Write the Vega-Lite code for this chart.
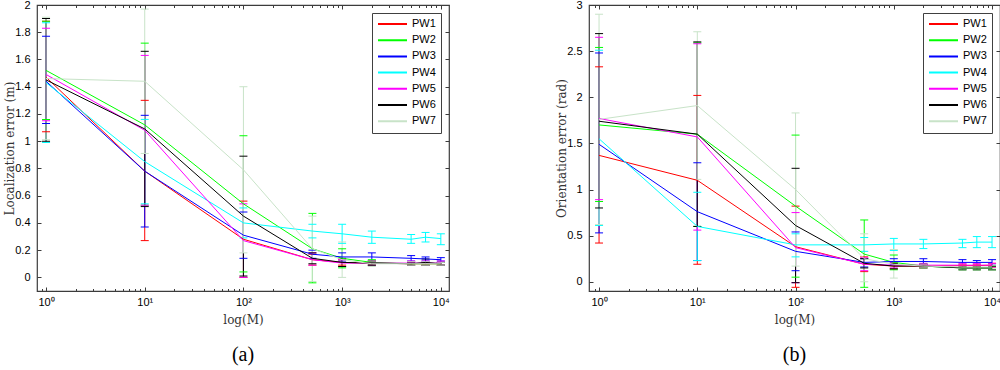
{
  "$schema": "https://vega.github.io/schema/vega-lite/v6.json",
  "padding": {"left": 3, "top": -2, "right": 0, "bottom": 0},
  "background": "white",
  "config": {
    "view": {"stroke": "#3c3c3c", "strokeWidth": 1.2},
    "axis": {"grid": false, "domain": false, "labelFont": "Liberation Sans", "labelFontSize": 11, "labelColor": "#000", "tickColor": "#3c3c3c", "titleFont": "DejaVu Serif", "titleFontSize": 12, "titleFontWeight": "normal", "titleColor": "#333"},
    "legend": {"orient": "top-right", "offset": 8, "strokeColor": "#404040", "fillColor": "#ffffff", "padding": 5, "labelFont": "Liberation Sans", "labelFontSize": 11, "labelColor": "#000", "symbolType": "stroke", "symbolSize": 841, "symbolStrokeWidth": 2, "rowPadding": 4.2, "clipHeight": 12, "labelOffset": 4},
    "title": {"font": "Liberation Serif", "fontSize": 20, "fontWeight": "normal", "color": "#000"}
  },
  "datasets": {
    "loc": [
      {"M":1,"s":"PW1","m":1.47,"lo":1.07,"hi":1.88},
      {"M":1,"s":"PW2","m":1.52,"lo":1.16,"hi":1.88},
      {"M":1,"s":"PW3","m":1.44,"lo":1.13,"hi":1.77},
      {"M":1,"s":"PW4","m":1.43,"lo":0.99,"hi":1.87},
      {"M":1,"s":"PW5","m":1.49,"lo":1.15,"hi":1.83},
      {"M":1,"s":"PW6","m":1.45,"lo":1.00,"hi":1.90},
      {"M":1,"s":"PW7","m":1.46,"lo":1.01,"hi":1.91},
      {"M":10,"s":"PW1","m":0.78,"lo":0.27,"hi":1.30},
      {"M":10,"s":"PW2","m":1.12,"lo":0.53,"hi":1.72},
      {"M":10,"s":"PW3","m":0.78,"lo":0.37,"hi":1.19},
      {"M":10,"s":"PW4","m":0.85,"lo":0.54,"hi":1.16},
      {"M":10,"s":"PW5","m":1.08,"lo":0.53,"hi":1.63},
      {"M":10,"s":"PW6","m":1.09,"lo":0.52,"hi":1.66},
      {"M":10,"s":"PW7","m":1.44,"lo":0.91,"hi":1.97},
      {"M":100,"s":"PW1","m":0.28,"lo":0.00,"hi":0.56},
      {"M":100,"s":"PW2","m":0.54,"lo":0.04,"hi":1.04},
      {"M":100,"s":"PW3","m":0.31,"lo":0.14,"hi":0.48},
      {"M":100,"s":"PW4","m":0.40,"lo":0.29,"hi":0.51},
      {"M":100,"s":"PW5","m":0.27,"lo":0.00,"hi":0.54},
      {"M":100,"s":"PW6","m":0.45,"lo":0.01,"hi":0.89},
      {"M":100,"s":"PW7","m":0.79,"lo":0.18,"hi":1.40},
      {"M":500,"s":"PW1","m":0.13,"lo":0.09,"hi":0.17},
      {"M":500,"s":"PW2","m":0.21,"lo":-0.04,"hi":0.47},
      {"M":500,"s":"PW3","m":0.17,"lo":0.14,"hi":0.20},
      {"M":500,"s":"PW4","m":0.34,"lo":0.29,"hi":0.39},
      {"M":500,"s":"PW5","m":0.13,"lo":0.09,"hi":0.18},
      {"M":500,"s":"PW6","m":0.14,"lo":0.10,"hi":0.18},
      {"M":500,"s":"PW7","m":0.21,"lo":-0.03,"hi":0.45},
      {"M":1000,"s":"PW1","m":0.11,"lo":0.09,"hi":0.13},
      {"M":1000,"s":"PW2","m":0.14,"lo":0.07,"hi":0.21},
      {"M":1000,"s":"PW3","m":0.15,"lo":0.12,"hi":0.18},
      {"M":1000,"s":"PW4","m":0.32,"lo":0.25,"hi":0.39},
      {"M":1000,"s":"PW5","m":0.105,"lo":0.08,"hi":0.13},
      {"M":1000,"s":"PW6","m":0.11,"lo":0.08,"hi":0.14},
      {"M":1000,"s":"PW7","m":0.13,"lo":0.00,"hi":0.26},
      {"M":2000,"s":"PW1","m":0.105,"lo":0.09,"hi":0.12},
      {"M":2000,"s":"PW2","m":0.11,"lo":0.09,"hi":0.13},
      {"M":2000,"s":"PW3","m":0.15,"lo":0.12,"hi":0.18},
      {"M":2000,"s":"PW4","m":0.295,"lo":0.25,"hi":0.34},
      {"M":2000,"s":"PW5","m":0.105,"lo":0.09,"hi":0.12},
      {"M":2000,"s":"PW6","m":0.105,"lo":0.09,"hi":0.12},
      {"M":2000,"s":"PW7","m":0.10,"lo":0.08,"hi":0.12},
      {"M":5000,"s":"PW1","m":0.10,"lo":0.09,"hi":0.115},
      {"M":5000,"s":"PW2","m":0.10,"lo":0.09,"hi":0.11},
      {"M":5000,"s":"PW3","m":0.14,"lo":0.12,"hi":0.16},
      {"M":5000,"s":"PW4","m":0.28,"lo":0.25,"hi":0.315},
      {"M":5000,"s":"PW5","m":0.105,"lo":0.09,"hi":0.12},
      {"M":5000,"s":"PW6","m":0.10,"lo":0.09,"hi":0.11},
      {"M":5000,"s":"PW7","m":0.10,"lo":0.09,"hi":0.115},
      {"M":7000,"s":"PW1","m":0.10,"lo":0.09,"hi":0.11},
      {"M":7000,"s":"PW2","m":0.10,"lo":0.09,"hi":0.11},
      {"M":7000,"s":"PW3","m":0.135,"lo":0.12,"hi":0.15},
      {"M":7000,"s":"PW4","m":0.295,"lo":0.26,"hi":0.33},
      {"M":7000,"s":"PW5","m":0.105,"lo":0.09,"hi":0.12},
      {"M":7000,"s":"PW6","m":0.11,"lo":0.09,"hi":0.135},
      {"M":7000,"s":"PW7","m":0.10,"lo":0.09,"hi":0.115},
      {"M":10000,"s":"PW1","m":0.10,"lo":0.09,"hi":0.11},
      {"M":10000,"s":"PW2","m":0.10,"lo":0.09,"hi":0.11},
      {"M":10000,"s":"PW3","m":0.13,"lo":0.12,"hi":0.145},
      {"M":10000,"s":"PW4","m":0.285,"lo":0.24,"hi":0.32},
      {"M":10000,"s":"PW5","m":0.105,"lo":0.09,"hi":0.12},
      {"M":10000,"s":"PW6","m":0.10,"lo":0.09,"hi":0.11},
      {"M":10000,"s":"PW7","m":0.10,"lo":0.09,"hi":0.11}
    ],
    "ori": [
      {"M":1,"s":"PW1","m":1.37,"lo":0.42,"hi":2.33},
      {"M":1,"s":"PW2","m":1.70,"lo":0.87,"hi":2.54},
      {"M":1,"s":"PW3","m":1.49,"lo":0.53,"hi":2.48},
      {"M":1,"s":"PW4","m":1.55,"lo":0.61,"hi":2.51},
      {"M":1,"s":"PW5","m":1.77,"lo":0.89,"hi":2.65},
      {"M":1,"s":"PW6","m":1.74,"lo":0.80,"hi":2.69},
      {"M":1,"s":"PW7","m":1.76,"lo":0.62,"hi":2.90},
      {"M":10,"s":"PW1","m":1.10,"lo":0.19,"hi":2.02},
      {"M":10,"s":"PW2","m":1.60,"lo":0.60,"hi":2.59},
      {"M":10,"s":"PW3","m":0.76,"lo":0.23,"hi":1.29},
      {"M":10,"s":"PW4","m":0.60,"lo":0.23,"hi":0.97},
      {"M":10,"s":"PW5","m":1.57,"lo":0.56,"hi":2.58},
      {"M":10,"s":"PW6","m":1.60,"lo":0.60,"hi":2.60},
      {"M":10,"s":"PW7","m":1.91,"lo":1.11,"hi":2.71},
      {"M":100,"s":"PW1","m":0.38,"lo":-0.06,"hi":0.82},
      {"M":100,"s":"PW2","m":0.82,"lo":0.05,"hi":1.59},
      {"M":100,"s":"PW3","m":0.33,"lo":0.12,"hi":0.54},
      {"M":100,"s":"PW4","m":0.40,"lo":0.27,"hi":0.52},
      {"M":100,"s":"PW5","m":0.37,"lo":-0.01,"hi":0.75},
      {"M":100,"s":"PW6","m":0.61,"lo":-0.01,"hi":1.23},
      {"M":100,"s":"PW7","m":1.00,"lo":0.17,"hi":1.83},
      {"M":500,"s":"PW1","m":0.19,"lo":0.11,"hi":0.27},
      {"M":500,"s":"PW2","m":0.30,"lo":-0.06,"hi":0.67},
      {"M":500,"s":"PW3","m":0.21,"lo":0.16,"hi":0.25},
      {"M":500,"s":"PW4","m":0.40,"lo":0.33,"hi":0.48},
      {"M":500,"s":"PW5","m":0.19,"lo":0.12,"hi":0.26},
      {"M":500,"s":"PW6","m":0.20,"lo":0.15,"hi":0.25},
      {"M":500,"s":"PW7","m":0.25,"lo":0.00,"hi":0.52},
      {"M":1000,"s":"PW1","m":0.17,"lo":0.14,"hi":0.20},
      {"M":1000,"s":"PW2","m":0.21,"lo":0.13,"hi":0.29},
      {"M":1000,"s":"PW3","m":0.22,"lo":0.19,"hi":0.25},
      {"M":1000,"s":"PW4","m":0.41,"lo":0.34,"hi":0.47},
      {"M":1000,"s":"PW5","m":0.18,"lo":0.15,"hi":0.21},
      {"M":1000,"s":"PW6","m":0.17,"lo":0.14,"hi":0.20},
      {"M":1000,"s":"PW7","m":0.19,"lo":0.04,"hi":0.35},
      {"M":2000,"s":"PW1","m":0.17,"lo":0.15,"hi":0.19},
      {"M":2000,"s":"PW2","m":0.17,"lo":0.15,"hi":0.19},
      {"M":2000,"s":"PW3","m":0.22,"lo":0.19,"hi":0.25},
      {"M":2000,"s":"PW4","m":0.41,"lo":0.36,"hi":0.46},
      {"M":2000,"s":"PW5","m":0.18,"lo":0.16,"hi":0.20},
      {"M":2000,"s":"PW6","m":0.17,"lo":0.15,"hi":0.19},
      {"M":2000,"s":"PW7","m":0.17,"lo":0.15,"hi":0.19},
      {"M":5000,"s":"PW1","m":0.175,"lo":0.16,"hi":0.19},
      {"M":5000,"s":"PW2","m":0.15,"lo":0.13,"hi":0.17},
      {"M":5000,"s":"PW3","m":0.21,"lo":0.18,"hi":0.24},
      {"M":5000,"s":"PW4","m":0.42,"lo":0.37,"hi":0.46},
      {"M":5000,"s":"PW5","m":0.18,"lo":0.16,"hi":0.20},
      {"M":5000,"s":"PW6","m":0.15,"lo":0.13,"hi":0.17},
      {"M":5000,"s":"PW7","m":0.16,"lo":0.14,"hi":0.18},
      {"M":7000,"s":"PW1","m":0.175,"lo":0.16,"hi":0.19},
      {"M":7000,"s":"PW2","m":0.15,"lo":0.13,"hi":0.17},
      {"M":7000,"s":"PW3","m":0.21,"lo":0.18,"hi":0.23},
      {"M":7000,"s":"PW4","m":0.43,"lo":0.37,"hi":0.49},
      {"M":7000,"s":"PW5","m":0.18,"lo":0.16,"hi":0.20},
      {"M":7000,"s":"PW6","m":0.15,"lo":0.13,"hi":0.17},
      {"M":7000,"s":"PW7","m":0.16,"lo":0.14,"hi":0.18},
      {"M":10000,"s":"PW1","m":0.18,"lo":0.16,"hi":0.20},
      {"M":10000,"s":"PW2","m":0.15,"lo":0.13,"hi":0.17},
      {"M":10000,"s":"PW3","m":0.21,"lo":0.18,"hi":0.24},
      {"M":10000,"s":"PW4","m":0.43,"lo":0.37,"hi":0.49},
      {"M":10000,"s":"PW5","m":0.18,"lo":0.16,"hi":0.20},
      {"M":10000,"s":"PW6","m":0.15,"lo":0.13,"hi":0.17},
      {"M":10000,"s":"PW7","m":0.16,"lo":0.14,"hi":0.18}
    ]
  },
  "spacing": 104,
  "resolve": {"scale": {"x": "independent", "y": "independent", "color": "independent"}, "legend": {"color": "independent"}},
  "hconcat": [
    {
      "width": 412, "height": 286,
      "data": {"name": "loc"},
      "title": {"text": "(a)", "orient": "bottom", "offset": 20, "anchor": "middle"},
      "encoding": {
        "color": {"field": "s", "type": "nominal", "scale": {"domain": ["PW1","PW2","PW3","PW4","PW5","PW6","PW7"], "range": ["#ff0000","#00ff00","#0000ff","#00ffff","#ff00ff","#000000","#c8e3c8"]}, "legend": {"title": null, "symbolType": "stroke"}}
      },
      "layer": [
        {
          "mark": {"type": "rule", "strokeWidth": 1},
          "encoding": {
            "x": {"field": "M", "type": "quantitative", "scale": {"type": "log", "domain": [0.81, 12100], "nice": false}, "axis": {"orient": "bottom", "values": [1,10,100,1000,10000], "tickSize": -4, "labelPadding": 9, "labelExpr": "'10' + ['⁰','¹','²','³','⁴'][round(log(datum.value)/LN10)]", "title": "log(M)", "titlePadding": 7}},
            "y": {"field": "lo", "type": "quantitative", "scale": {"domain": [-0.1, 2], "nice": false}, "axis": {"orient": "left", "values": [0,0.2,0.4,0.6,0.8,1,1.2,1.4,1.6,1.8,2], "format": "~g", "tickSize": -4, "labelPadding": 11, "title": "Localization error (m)", "titlePadding": -2}},
            "y2": {"field": "hi"}
          }
        },
        {
          "mark": {"type": "tick", "orient": "horizontal", "size": 8, "thickness": 1, "opacity": 1},
          "encoding": {
            "x": {"field": "M", "type": "quantitative", "axis": {"orient": "bottom", "values": [0.9,2,3,4,5,6,7,8,9,20,30,40,50,60,70,80,90,200,300,400,500,600,700,800,900,2000,3000,4000,5000,6000,7000,8000,9000], "tickSize": -2.5, "labels": false, "title": null}},
            "y": {"field": "lo", "type": "quantitative", "axis": {"orient": "right", "values": [0,0.2,0.4,0.6,0.8,1,1.2,1.4,1.6,1.8,2], "tickSize": -4, "labels": false, "title": null}}
          }
        },
        {
          "mark": {"type": "tick", "orient": "horizontal", "size": 8, "thickness": 1, "opacity": 1},
          "encoding": {
            "x": {"field": "M", "type": "quantitative", "axis": {"orient": "top", "values": [1,10,100,1000,10000], "tickSize": -4, "labels": false, "title": null}},
            "y": {"field": "hi", "type": "quantitative", "axis": null}
          }
        },
        {
          "mark": {"type": "line", "strokeWidth": 1},
          "encoding": {
            "x": {"field": "M", "type": "quantitative", "axis": {"orient": "top", "values": [0.9,2,3,4,5,6,7,8,9,20,30,40,50,60,70,80,90,200,300,400,500,600,700,800,900,2000,3000,4000,5000,6000,7000,8000,9000], "tickSize": -2.5, "labels": false, "title": null}},
            "y": {"field": "m", "type": "quantitative", "axis": null}
          }
        }
      ],
      "resolve": {"axis": {"x": "independent", "y": "independent"}}
    },
    {
      "width": 411, "height": 286,
      "data": {"name": "ori"},
      "title": {"text": "(b)", "orient": "bottom", "offset": 20, "anchor": "middle"},
      "encoding": {
        "color": {"field": "s", "type": "nominal", "scale": {"domain": ["PW1","PW2","PW3","PW4","PW5","PW6","PW7"], "range": ["#ff0000","#00ff00","#0000ff","#00ffff","#ff00ff","#000000","#c8e3c8"]}, "legend": {"title": null, "symbolType": "stroke"}}
      },
      "layer": [
        {
          "mark": {"type": "rule", "strokeWidth": 1},
          "encoding": {
            "x": {"field": "M", "type": "quantitative", "scale": {"type": "log", "domain": [0.79, 12050], "nice": false}, "axis": {"orient": "bottom", "values": [1,10,100,1000,10000], "tickSize": -4, "labelPadding": 9, "labelExpr": "'10' + ['⁰','¹','²','³','⁴'][round(log(datum.value)/LN10)]", "title": "log(M)", "titlePadding": 7}},
            "y": {"field": "lo", "type": "quantitative", "scale": {"domain": [-0.1, 3], "nice": false}, "axis": {"orient": "left", "values": [0,0.5,1,1.5,2,2.5,3], "format": "~g", "tickSize": -4, "labelPadding": 11, "title": "Orientation error (rad)", "titlePadding": -2}},
            "y2": {"field": "hi"}
          }
        },
        {
          "mark": {"type": "tick", "orient": "horizontal", "size": 8, "thickness": 1, "opacity": 1},
          "encoding": {
            "x": {"field": "M", "type": "quantitative", "axis": {"orient": "bottom", "values": [0.9,2,3,4,5,6,7,8,9,20,30,40,50,60,70,80,90,200,300,400,500,600,700,800,900,2000,3000,4000,5000,6000,7000,8000,9000], "tickSize": -2.5, "labels": false, "title": null}},
            "y": {"field": "lo", "type": "quantitative", "axis": {"orient": "right", "values": [0,0.5,1,1.5,2,2.5,3], "tickSize": -4, "labels": false, "title": null}}
          }
        },
        {
          "mark": {"type": "tick", "orient": "horizontal", "size": 8, "thickness": 1, "opacity": 1},
          "encoding": {
            "x": {"field": "M", "type": "quantitative", "axis": {"orient": "top", "values": [1,10,100,1000,10000], "tickSize": -4, "labels": false, "title": null}},
            "y": {"field": "hi", "type": "quantitative", "axis": null}
          }
        },
        {
          "mark": {"type": "line", "strokeWidth": 1},
          "encoding": {
            "x": {"field": "M", "type": "quantitative", "axis": {"orient": "top", "values": [0.9,2,3,4,5,6,7,8,9,20,30,40,50,60,70,80,90,200,300,400,500,600,700,800,900,2000,3000,4000,5000,6000,7000,8000,9000], "tickSize": -2.5, "labels": false, "title": null}},
            "y": {"field": "m", "type": "quantitative", "axis": null}
          }
        }
      ],
      "resolve": {"axis": {"x": "independent", "y": "independent"}}
    }
  ]
}
